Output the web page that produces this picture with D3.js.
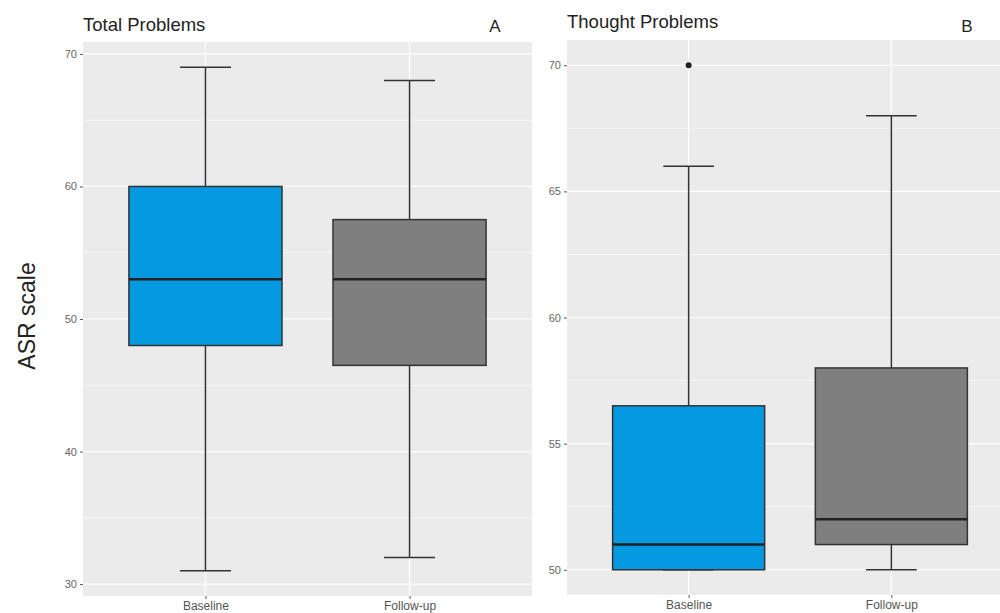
<!DOCTYPE html>
<html>
<head>
<meta charset="utf-8">
<script src="https://cdn.jsdelivr.net/npm/d3@7"></script>
<style>
  body { margin: 0; background: #fff; }
  text { font-family: "Liberation Sans", Arial, sans-serif; }
</style>
</head>
<body>
<div id="chart"></div>
<script>
const groups = ["Baseline", "Follow-up"];
const fills = ["#0599e2", "#7f7f7f"];

// [lower whisker, q1, median, q3, upper whisker]
const totalStats = [[31, 48, 53, 60, 69], [32, 46.5, 53, 57.5, 68]];
const totalOutliers = [[], []];
const totalTicks = [30, 40, 50, 60, 70];

const thoughtStats = [[50, 50, 51, 56.5, 66], [50, 51, 52, 58, 68]];
const thoughtOutliers = [[70], []];
const thoughtTicks = [50, 55, 60, 65, 70];

const svg = d3.select("#chart").append("svg")
  .attr("width", 1000)
  .attr("height", 613);

function drawPanel(opt) {
  const x = d3.scalePoint()
    .domain(groups)
    .range([opt.left, opt.right])
    .padding(0.6);
  const step = x.step();

  const y = d3.scaleLinear()
    .domain(opt.domain)
    .range([opt.bottom, opt.top]);

  const g = svg.append("g");

  g.append("rect")
    .attr("x", opt.left)
    .attr("y", opt.top)
    .attr("width", opt.right - opt.left)
    .attr("height", opt.bottom - opt.top)
    .attr("fill", "#ebebeb");

  // minor grid
  const minor = d3.pairs(opt.ticks).map(p => (p[0] + p[1]) / 2);
  minor.push(opt.ticks[0] - (opt.ticks[1] - opt.ticks[0]) / 2);
  minor.push(opt.ticks[opt.ticks.length - 1] + (opt.ticks[1] - opt.ticks[0]) / 2);
  g.selectAll(".minor")
    .data(minor.filter(v => v > opt.domain[0] && v < opt.domain[1]))
    .enter().append("line")
    .attr("x1", opt.left).attr("x2", opt.right)
    .attr("y1", d => y(d)).attr("y2", d => y(d))
    .attr("stroke", "#fff").attr("stroke-width", 0.6);

  // major grid
  g.selectAll(".major")
    .data(opt.ticks)
    .enter().append("line")
    .attr("x1", opt.left).attr("x2", opt.right)
    .attr("y1", d => y(d)).attr("y2", d => y(d))
    .attr("stroke", "#fff").attr("stroke-width", 1.2);

  g.selectAll(".vgrid")
    .data(groups)
    .enter().append("line")
    .attr("x1", d => x(d)).attr("x2", d => x(d))
    .attr("y1", opt.top).attr("y2", opt.bottom)
    .attr("stroke", "#fff").attr("stroke-width", 1.2);

  // y axis
  const yAxis = g.append("g")
    .attr("transform", "translate(" + opt.left + ",0)")
    .call(d3.axisLeft(y).tickValues(opt.ticks).tickSize(3).tickPadding(3));
  yAxis.select(".domain").remove();
  yAxis.selectAll("line").attr("stroke", "#555");
  yAxis.selectAll("text").attr("fill", "#666").style("font-size", "11px");

  // x axis
  const xAxis = g.append("g")
    .attr("transform", "translate(0," + opt.bottom + ")")
    .call(d3.axisBottom(x).tickSize(3).tickPadding(2));
  xAxis.select(".domain").remove();
  xAxis.selectAll("line").attr("stroke", "#555");
  xAxis.selectAll("text").attr("fill", "#555").style("font-size", "12px");

  // boxes
  const boxes = g.selectAll(".box")
    .data(opt.stats)
    .enter().append("g");

  boxes.append("line")
    .attr("x1", (d, i) => x(groups[i])).attr("x2", (d, i) => x(groups[i]))
    .attr("y1", d => y(d[0])).attr("y2", d => y(d[1]))
    .attr("stroke", "#333").attr("stroke-width", 1.5);
  boxes.append("line")
    .attr("x1", (d, i) => x(groups[i])).attr("x2", (d, i) => x(groups[i]))
    .attr("y1", d => y(d[3])).attr("y2", d => y(d[4]))
    .attr("stroke", "#333").attr("stroke-width", 1.5);
  [0, 4].forEach(k => {
    boxes.append("line")
      .attr("x1", (d, i) => x(groups[i]) - step * 0.125)
      .attr("x2", (d, i) => x(groups[i]) + step * 0.125)
      .attr("y1", d => y(d[k])).attr("y2", d => y(d[k]))
      .attr("stroke", "#333").attr("stroke-width", 1.5);
  });
  boxes.append("rect")
    .attr("x", (d, i) => x(groups[i]) - step * 0.375)
    .attr("width", step * 0.75)
    .attr("y", d => y(d[3]))
    .attr("height", d => y(d[1]) - y(d[3]))
    .attr("fill", (d, i) => fills[i])
    .attr("stroke", "#333").attr("stroke-width", 1.5);
  boxes.append("line")
    .attr("x1", (d, i) => x(groups[i]) - step * 0.375)
    .attr("x2", (d, i) => x(groups[i]) + step * 0.375)
    .attr("y1", d => y(d[2])).attr("y2", d => y(d[2]))
    .attr("stroke", "#222").attr("stroke-width", 2.6);

  opt.outliers.forEach((arr, i) => {
    g.selectAll(null)
      .data(arr)
      .enter().append("circle")
      .attr("cx", x(groups[i]))
      .attr("cy", d => y(d))
      .attr("r", 3)
      .attr("fill", "#222");
  });

  svg.append("text")
    .attr("x", opt.left)
    .attr("y", opt.titleY)
    .style("font-size", opt.titleSize)
    .attr("fill", "#222")
    .text(opt.title);
  svg.append("text")
    .attr("x", opt.tagX)
    .attr("y", 32)
    .attr("text-anchor", "middle")
    .style("font-size", "17px")
    .attr("fill", "#222")
    .text(opt.tag);
}

drawPanel({
  left: 83, right: 532, top: 42, bottom: 596,
  domain: [29.1, 70.9],
  ticks: totalTicks, stats: totalStats, outliers: totalOutliers,
  title: "Total Problems", titleY: 31, titleSize: "18.5px", tag: "A", tagX: 495
});

drawPanel({
  left: 567, right: 1013, top: 40, bottom: 595,
  domain: [49, 71],
  ticks: thoughtTicks, stats: thoughtStats, outliers: thoughtOutliers,
  title: "Thought Problems", titleY: 28, titleSize: "18.5px", tag: "B", tagX: 967
});

svg.append("text")
  .attr("transform", "translate(35,316) rotate(-90)")
  .attr("text-anchor", "middle")
  .style("font-size", "23px")
  .attr("fill", "#222")
  .text("ASR scale");
</script>
</body>
</html>
